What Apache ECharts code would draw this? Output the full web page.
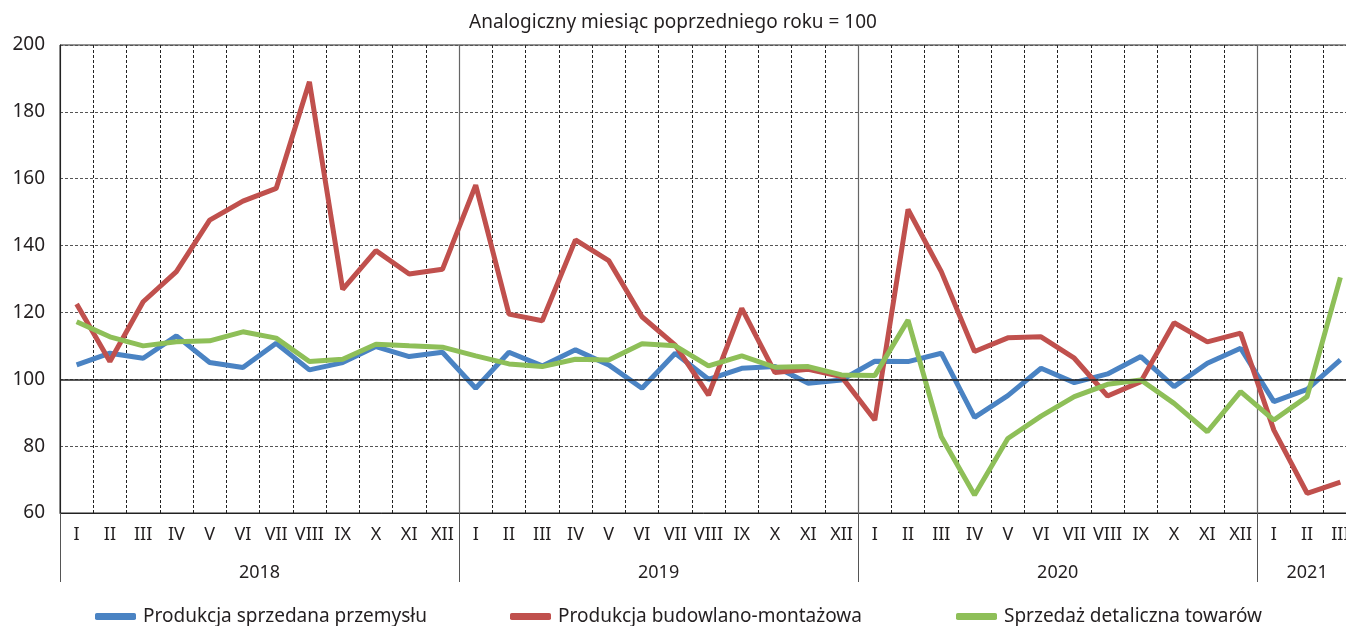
<!DOCTYPE html>
<html>
<head>
<meta charset="utf-8">
<script src="https://cdn.jsdelivr.net/npm/echarts@6/dist/echarts.min.js"></script>
<style>
  html, body { margin: 0; padding: 0; background: #fff; }
  #chart { width: 1346px; height: 626px; }
</style>
</head>
<body>
<div id="chart"></div>
<script>
// months 2018 I - 2021 III
const months = [
  'I', 'II', 'III', 'IV', 'V', 'VI', 'VII', 'VIII', 'IX', 'X', 'XI', 'XII',
  'I', 'II', 'III', 'IV', 'V', 'VI', 'VII', 'VIII', 'IX', 'X', 'XI', 'XII',
  'I', 'II', 'III', 'IV', 'V', 'VI', 'VII', 'VIII', 'IX', 'X', 'XI', 'XII',
  'I', 'II', 'III'
];
const years = ['2018', '2019', '2020', '2021'];
const yearCenters = [6, 18, 30, 37.5]; // position of year label, in months from start

const seriesNames = [
  'Produkcja sprzedana przemysłu',
  'Produkcja budowlano-montażowa',
  'Sprzedaż detaliczna towarów'
];

const industry = [
  104.3, 107.8, 106.3, 113.0, 105.0, 103.5, 110.8, 102.8, 105.0, 109.8, 106.8, 108.1,
  97.3, 108.1, 104.0, 108.8, 104.3, 97.3, 107.8, 100.0, 103.3, 103.8, 98.8, 99.8,
  105.4, 105.3, 107.8, 88.6, 95.1, 103.3, 99.0, 101.6, 106.8, 97.8, 104.8, 109.3,
  93.3, 97.0, 105.8
];
const construction = [
  122.5, 105.3, 123.2, 132.2, 147.6, 153.3, 157.1, 189.0, 126.9, 138.5, 131.5, 132.9,
  158.1, 119.5, 117.5, 141.7, 135.5, 118.7, 110.2, 95.3, 121.2, 102.0, 103.0, 100.8,
  87.8, 150.8, 132.2, 108.3, 112.4, 112.7, 106.3, 95.0, 99.3, 116.9, 111.2, 113.8,
  84.8, 65.9, 69.2
];
const retail = [
  117.2, 112.7, 110.0, 111.2, 111.5, 114.2, 112.3, 105.3, 106.0, 110.5, 110.0, 109.6,
  107.0, 104.6, 103.8, 106.0, 105.8, 110.6, 110.0, 104.0, 107.0, 103.6, 103.8, 101.3,
  101.1, 117.7, 82.8, 65.4, 82.3, 89.0, 94.8, 98.5, 99.8, 92.8, 84.3, 96.3,
  87.8, 94.8, 130.5
];

const colors = ['#4A83C3', '#C0504D', '#8EBF58'];
const font = '"Noto Sans", sans-serif';
const textColor = '#231f20';

const chart = echarts.init(document.getElementById('chart'));

function legendFor(i, left) {
  return {
    data: [seriesNames[i]],
    left: left,
    top: 602,
    icon: 'roundRect',
    itemWidth: 41,
    itemHeight: 7,
    itemGap: 8,
    selectedMode: false,
    textStyle: { fontSize: 19, color: textColor, fontFamily: font, padding: [0, 0, 0, 2] }
  };
}

const option = {
  animation: false,
  color: colors,
  title: {
    text: 'Analogiczny miesiąc poprzedniego roku = 100',
    left: 'center',
    top: 8,
    textStyle: { fontSize: 19, fontWeight: 'normal', color: textColor, fontFamily: font }
  },
  legend: [legendFor(0, 90), legendFor(1, 505), legendFor(2, 951)],
  grid: {
    left: 60, top: 45, width: 1297, height: 468,
    outerBoundsMode: 'none',
    containLabel: false,
    show: true, borderColor: '#222', borderWidth: 1
  },
  xAxis: [
    {
      type: 'category',
      data: months,
      boundaryGap: true,
      axisLine: { lineStyle: { color: '#222' } },
      axisTick: { show: false },
      axisLabel: { interval: 0, margin: 13, fontSize: 18, color: textColor, fontFamily: font },
      splitLine: { show: true, interval: 0, lineStyle: { type: [3, 2], color: '#222' } }
    },
    {
      // year separators
      type: 'value', min: 0, max: 39, interval: 12, position: 'bottom',
      axisLine: { show: false },
      axisLabel: { show: false },
      axisTick: { show: true, length: 69, lineStyle: { color: '#555' } },
      splitLine: { show: true, lineStyle: { color: '#666', width: 1.2 } }
    },
    {
      // year labels
      type: 'value', min: 0, max: 39, interval: 1.5, position: 'bottom',
      axisLine: { show: false },
      axisTick: { show: false },
      splitLine: { show: false },
      axisLabel: {
        margin: 51, fontSize: 18, color: textColor, fontFamily: font,
        formatter: function (v) {
          const k = yearCenters.indexOf(v);
          return k >= 0 ? years[k] : '';
        }
      }
    }
  ],
  yAxis: {
    type: 'value', min: 60, max: 200, interval: 20,
    axisLine: { show: true, lineStyle: { color: '#222' } },
    axisTick: { show: false },
    axisLabel: { fontSize: 19, margin: 15, color: textColor, fontFamily: font },
    splitLine: { lineStyle: { type: [3, 2], color: '#555' } }
  },
  series: [
    {
      // base line at 100
      type: 'line', data: [], z: 1, silent: true,
      markLine: {
        silent: true, symbol: 'none', label: { show: false },
        lineStyle: { color: '#222', type: 'solid', width: 1.5 },
        data: [{ yAxis: 100 }]
      }
    },
    { name: seriesNames[0], type: 'line', data: industry, symbol: 'none', lineStyle: { width: 5 }, color: colors[0] },
    { name: seriesNames[1], type: 'line', data: construction, symbol: 'none', lineStyle: { width: 5 }, color: colors[1] },
    { name: seriesNames[2], type: 'line', data: retail, symbol: 'none', lineStyle: { width: 5 }, color: colors[2] }
  ]
};

chart.setOption(option);
</script>
</body>
</html>
